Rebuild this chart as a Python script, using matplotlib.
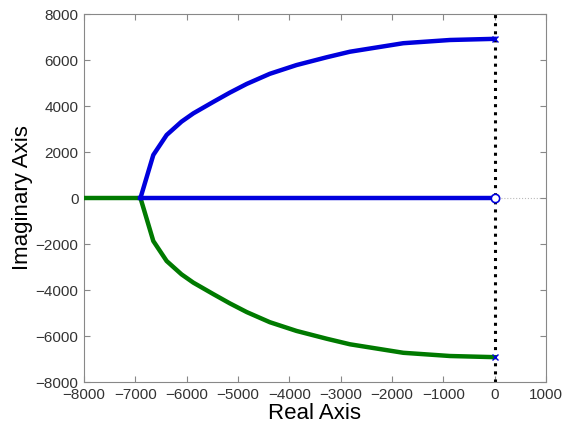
import matplotlib
matplotlib.use("Agg")
import matplotlib.pyplot as plt
import numpy as np

plt.rcParams['font.family'] = ['Liberation Sans', 'DejaVu Sans']

# Root locus upper branch (real, imag)
branch_re = [-6900, -6650, -6390, -6100, -5870, -5480, -5160, -4830, -4380, -3860, -3270, -2820, -1780, -870, 0]
branch_im = [0, 1870, 2740, 3320, 3680, 4180, 4580, 4960, 5400, 5780, 6120, 6360, 6730, 6870, 6920]
# Real-axis segments
green_real = [-8000, -6900]
blue_real = [-6900, 0]
pole_im = [6920, -6920]

fig = plt.figure(figsize=(5.68, 4.30), dpi=100)
ax = fig.add_axes([84/568, 1-382/430, (546-84)/568, (382-14)/430])

blue = '#0000dd'
green = '#007a00'
lw = 3.2

ax.plot([0, 1000], [0, 0], linestyle=':', color='#bbbbbb', lw=0.8, zorder=1)
ax.axvline(0, color='black', linestyle=':', lw=2.2, zorder=2)

ax.plot(green_real, [0, 0], color=green, lw=lw, solid_capstyle='butt', zorder=3)
ax.plot(branch_re, [-v for v in branch_im], color=green, lw=lw, zorder=3)
ax.plot(blue_real, [0, 0], color=blue, lw=lw, zorder=4)
ax.plot(branch_re, branch_im, color=blue, lw=lw, zorder=4)
ax.plot([0], [0], marker='o', mfc='white', mec=blue, ms=6, mew=1.2, zorder=5)
ax.plot([0, 0], pole_im, linestyle='none', marker='x', color=blue, ms=5, mew=1, zorder=5)

ax.set_xlim(-8000, 1000)
ax.set_ylim(-8000, 8000)
ax.set_xticks(np.arange(-8000, 1001, 1000))
ax.set_yticks(np.arange(-8000, 8001, 2000))
ax.tick_params(direction='in', top=True, right=True, length=4, color='#888888',
               labelsize=11, labelcolor='#333333', pad=4)
for s in ax.spines.values():
    s.set_color('#888888')
    s.set_linewidth(0.8)
ax.set_xlabel('Real Axis', fontsize=16, labelpad=1)
ax.set_ylabel('Imaginary Axis', fontsize=16, labelpad=2)

fig.savefig('out.png', dpi=100)
